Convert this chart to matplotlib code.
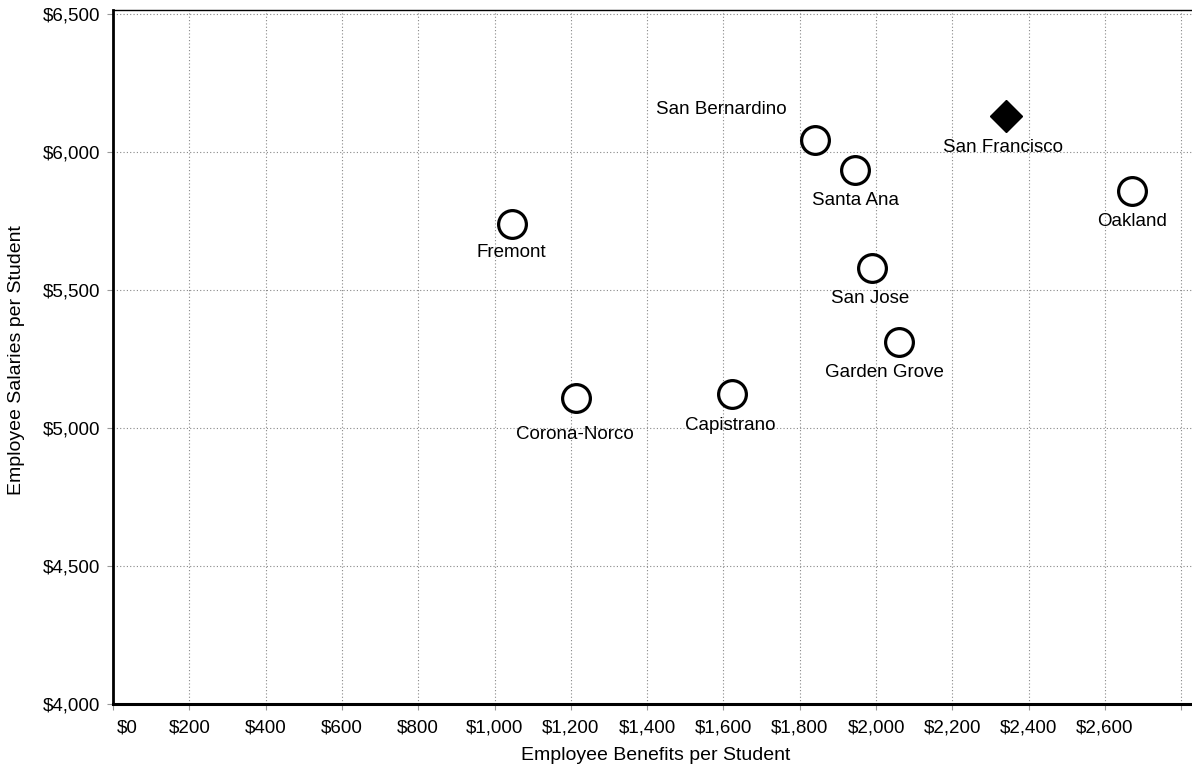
import matplotlib
matplotlib.use('Agg')
import matplotlib.pyplot as plt
import matplotlib.transforms as mtransforms
from matplotlib.ticker import FuncFormatter

plt.rcParams['font.family'] = ['Liberation Sans', 'DejaVu Sans']

# districts, benefits per student ($), salaries per student ($)
districts = ['Fremont', 'Corona-Norco', 'Capistrano', 'San Bernardino', 'Santa Ana',
             'San Jose', 'Garden Grove', 'San Francisco', 'Oakland']
benefits = [1045, 1213, 1622, 1840, 1945, 1990, 2060, 2341, 2671]
salaries = [5740, 5108, 5122, 6045, 5935, 5580, 5310, 6132, 5858]
highlight = 'San Francisco'

xticks = list(range(0, 2801, 200))
yticks = list(range(4000, 6501, 500))

# label offsets in pixels (dx, dy) relative to the marker
label_off = {
    'Fremont': (0, -29), 'Corona-Norco': (-1, -36), 'Capistrano': (-2, -31),
    'San Bernardino': (-94, 30), 'Santa Ana': (0, -30), 'San Jose': (-2, -31),
    'Garden Grove': (-15, -30), 'San Francisco': (-3, -32), 'Oakland': (0, -30),
}

fig = plt.figure(figsize=(11.92, 7.66), dpi=100)
ax = fig.add_axes([0.0948, 0.081, 0.9052, 0.906])

for name, x, y in zip(districts, benefits, salaries):
    if name == highlight:
        ax.plot(x, y, 'D', ms=16, color='black', zorder=3)
    else:
        ax.plot(x, y, 'o', ms=20, mfc='white', mec='black', mew=2.3, zorder=3)
    dx, dy = label_off[name]
    ax.annotate(name, (x, y), xytext=(dx, dy), textcoords='offset pixels',
                ha='center', va='center', fontsize=13.5, zorder=4)

ax.set_xlim(0, 2828)
ax.set_ylim(4000, 6515)
ax.set_xticks(xticks)
ax.set_yticks(yticks)
money = FuncFormatter(lambda v, p: '${:,.0f}'.format(v))
ax.yaxis.set_major_formatter(money)
ax.set_xticklabels(['${:,}'.format(t) if t < 2800 else '' for t in xticks])
ax.tick_params(axis='both', labelsize=13.5, length=4, color='#999999', width=0.8)
ax.tick_params(axis='x', pad=7)
ax.tick_params(axis='y', pad=5)

# first x label sits a little right of its gridline, as in the original
lbl0 = ax.get_xticklabels()[0]
lbl0.set_horizontalalignment('left')
lbl0.set_transform(lbl0.get_transform() + mtransforms.ScaledTranslation(4 / 100, 0, fig.dpi_scale_trans))

ax.grid(True, color='#888888', linestyle=(0, (1, 2)), linewidth=0.8)
ax.set_axisbelow(True)

ax.spines['right'].set_visible(False)
ax.spines['top'].set_linewidth(1.0)
ax.spines['left'].set_linewidth(2.0)
ax.spines['bottom'].set_linewidth(2.2)

fig.text(656 / 1192, 1 - 755 / 766, 'Employee Benefits per Student', fontsize=14,
         ha='center', va='center')
fig.text(17 / 1192, 1 - 360 / 766, 'Employee Salaries per Student', fontsize=14,
         ha='center', va='center', rotation=90)

fig.savefig('out.png', dpi=100)
